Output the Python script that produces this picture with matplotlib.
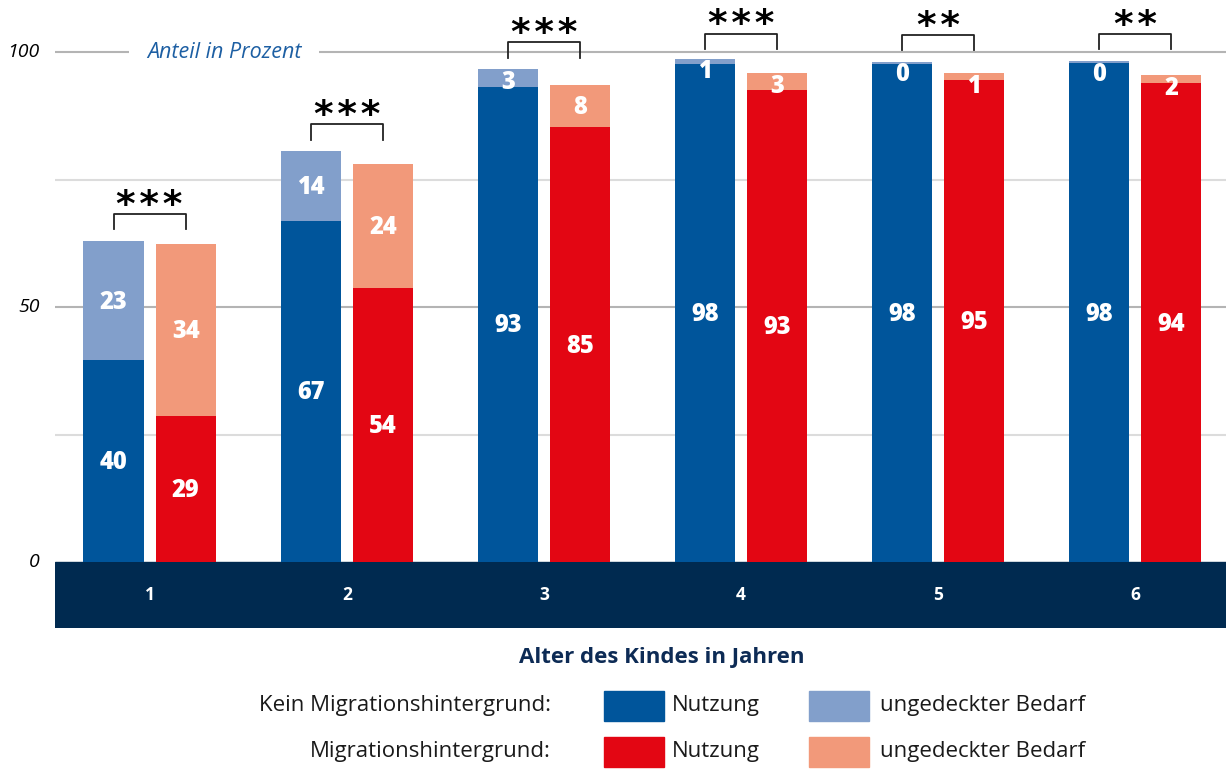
import numpy as np
import matplotlib.pyplot as plt
from matplotlib.patches import Rectangle

plt.rcParams['font.family'] = ['Open Sans', 'DejaVu Sans']

# Daten (Anteil in Prozent)
alter = ['1', '2', '3', '4', '5', '6']
kein_nutzung = [39.6, 66.9, 93.2, 97.6, 97.7, 97.8]
kein_bedarf = [23.3, 13.6, 3.4, 1.1, 0.4, 0.4]
mig_nutzung = [28.6, 53.7, 85.2, 92.6, 94.6, 93.9]
mig_bedarf = [33.8, 24.3, 8.3, 3.3, 1.3, 1.6]
signifikanz = ['***', '***', '***', '***', '**', '**']

c_blau = '#00559b'
c_hellblau = '#829fcb'
c_rot = '#e30613'
c_lachs = '#f2997a'
c_navy = '#002a50'

fig = plt.figure(figsize=(12.26, 7.69), dpi=100)
ax = fig.add_axes([55 / 1226, 1 - 628 / 769, 1 - 55 / 1226, 628 / 769])
ax.set_xlim(-0.48, 5.46)
ax.set_ylim(-12.94, 110.2)
ax.axis('off')

x = np.arange(len(alter))
w = 0.305
off = 0.183

# Gitterlinien
for y, col in [(25, '#dcdcdc'), (75, '#dcdcdc'), (50, '#b4b4b4'), (100, '#b4b4b4')]:
    ax.axhline(y, color=col, lw=1.5, zorder=0)
for y, lab in [(100, '100'), (50, '50'), (0, '0')]:
    ax.text(-0.013, y, lab, transform=ax.get_yaxis_transform(), ha='right', va='center',
            fontsize=14, style='italic', color='black')
ax.text(0.378, 100, 'Anteil in Prozent', ha='center', va='center', fontsize=15.5,
        style='italic', color='#1d5fa3', zorder=1,
        bbox=dict(fc='white', ec='none', pad=13))

# x-Achsenband
ax.axhspan(-12.94, 0, color=c_navy, zorder=1)
for xi, lab in zip(x, alter):
    ax.text(xi, -6.4, lab, ha='center', va='center', color='white', fontsize=12.5, fontweight='bold')

# Balken
ax.bar(x - off, kein_nutzung, w, color=c_blau, zorder=2)
ax.bar(x - off, kein_bedarf, w, bottom=kein_nutzung, color=c_hellblau, zorder=2)
ax.bar(x + off, mig_nutzung, w, color=c_rot, zorder=2)
ax.bar(x + off, mig_bedarf, w, bottom=mig_nutzung, color=c_lachs, zorder=2)


def beschriften(xs, unten, werte):
    for xi, b, v in zip(xs, unten, werte):
        top = b + v
        y = min(b + v / 2, top - 2.3)
        ax.text(xi, y - 0.3, f'{v:.0f}', ha='center', va='center', color='white',
                fontsize=17, fontweight='heavy', zorder=3)


beschriften(x - off, [0] * 6, kein_nutzung)
beschriften(x - off, kein_nutzung, kein_bedarf)
beschriften(x + off, [0] * 6, mig_nutzung)
beschriften(x + off, mig_nutzung, mig_bedarf)

# Signifikanz-Klammern
for xi, s, a1, a2, b1, b2 in zip(x, signifikanz, kein_nutzung, kein_bedarf, mig_nutzung, mig_bedarf):
    m = max(a1 + a2, b1 + b2)
    yt = min(m + 5.3, 103.6)
    yb = yt - 3.0
    ax.plot([xi - off, xi - off, xi + off, xi + off], [yb, yt, yt, yb], color='#222222', lw=1.3, zorder=3)
    ax.text(xi, yt + 1.6, '\u200a'.join(s), ha='center', va='center', fontsize=27, fontweight='heavy',
            family='DejaVu Sans', color='black')

# Achsentitel und Legende
fig.text(662 / 1226, 1 - 657 / 769, 'Alter des Kindes in Jahren', ha='center', va='center',
         fontsize=16, fontweight='bold', color='#0d2b55')
for yp, lab, c1, c2 in [(706, 'Kein Migrationshintergrund:', c_blau, c_hellblau),
                        (752, 'Migrationshintergrund:', c_rot, c_lachs)]:
    fy = 1 - yp / 769
    fig.text(551 / 1226, fy, lab, ha='right', va='center', fontsize=16, color='#1a1a1a')
    fig.patches.append(Rectangle((604 / 1226, fy - 15 / 769), 60 / 1226, 30 / 769,
                                 color=c1, transform=fig.transFigure, figure=fig))
    fig.text(672 / 1226, fy, 'Nutzung', ha='left', va='center', fontsize=16, color='#1a1a1a')
    fig.patches.append(Rectangle((809 / 1226, fy - 15 / 769), 60 / 1226, 30 / 769,
                                 color=c2, transform=fig.transFigure, figure=fig))
    fig.text(880 / 1226, fy, 'ungedeckter Bedarf', ha='left', va='center', fontsize=16, color='#1a1a1a')

fig.savefig('out.png', dpi=100)
